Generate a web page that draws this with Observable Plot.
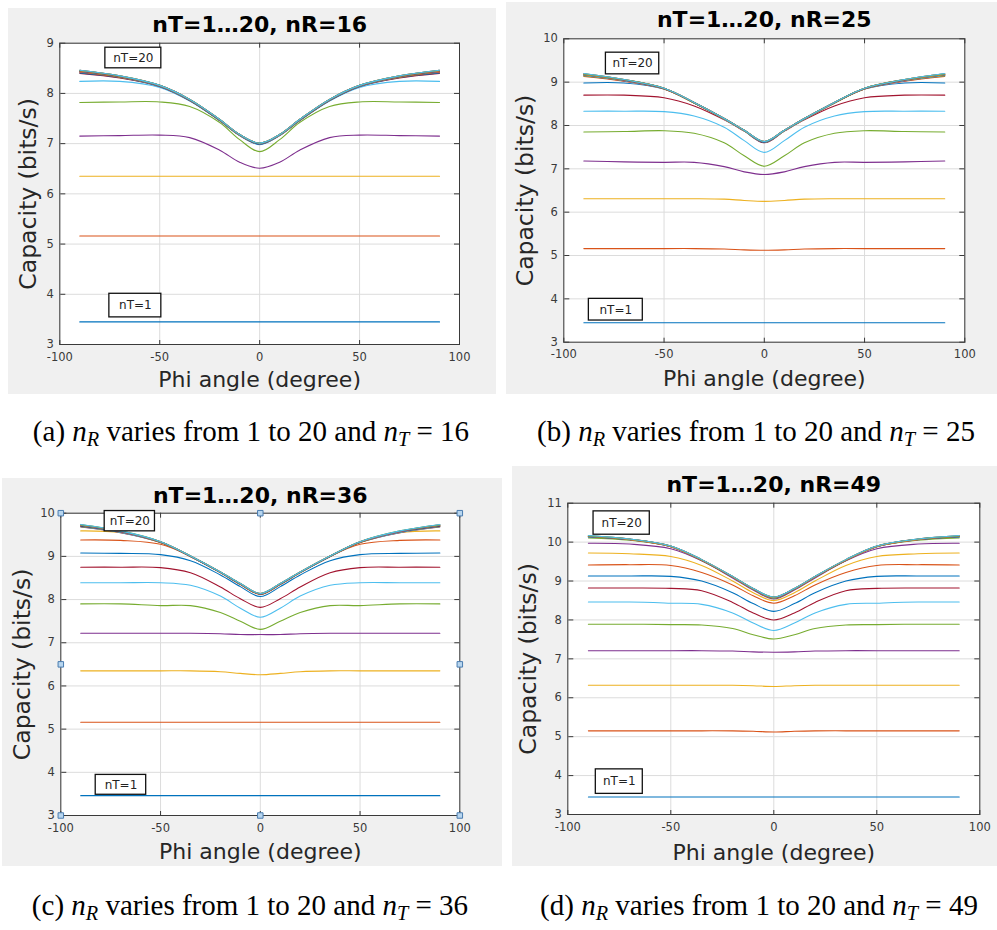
<!DOCTYPE html>
<html><head><meta charset="utf-8">
<script src="https://cdn.jsdelivr.net/npm/d3@7"></script>
<script src="https://cdn.jsdelivr.net/npm/@observablehq/plot@0.6"></script>
<style>
body{margin:0;background:#fff;width:997px;height:930px;position:relative;overflow:hidden;font-family:"DejaVu Sans",sans-serif;}
.panel{position:absolute;}
.cap{position:absolute;width:520px;text-align:center;font-family:"Liberation Serif","Times New Roman",serif;font-size:29px;line-height:1;white-space:nowrap;color:#000;}
.cap i{font-style:italic}
.cap sub{font-size:0.7em;vertical-align:-0.25em;line-height:0}
</style></head><body>
<script>
// Phi angle samples (degree)
const phi = [-90,-70,-50,-35,-20,-10,0,10,20,35,50,70,90];
const xTicks = [-100,-50,0,50,100];
const colors = ["#0072BD","#D95319","#EDB120","#7E2F8E","#77AC30","#4DBEEE","#A2142F"];

// (a) nR = 16, lines nT = 1..20
const capA = [
[3.45,3.45,3.45,3.45,3.45,3.45,3.45,3.45,3.45,3.45,3.45,3.45,3.45],
[5.16,5.16,5.16,5.16,5.16,5.16,5.16,5.16,5.16,5.16,5.16,5.16,5.16],
[6.35,6.35,6.35,6.35,6.35,6.35,6.35,6.35,6.35,6.35,6.35,6.35,6.35],
[7.15,7.16,7.17,7.12,6.87,6.63,6.51,6.63,6.87,7.12,7.17,7.16,7.15],
[7.82,7.83,7.83,7.74,7.42,7.08,6.84,7.08,7.42,7.74,7.83,7.83,7.82],
[8.24,8.24,8.12,7.85,7.46,7.16,6.98,7.16,7.46,7.85,8.12,8.24,8.24],
[8.40,8.31,8.14,7.86,7.46,7.16,6.99,7.16,7.46,7.86,8.14,8.31,8.40],
[8.41,8.32,8.14,7.86,7.46,7.17,6.99,7.17,7.46,7.86,8.14,8.32,8.41],
[8.42,8.32,8.15,7.87,7.47,7.17,7.00,7.17,7.47,7.87,8.15,8.32,8.42],
[8.43,8.33,8.15,7.87,7.47,7.17,7.00,7.17,7.47,7.87,8.15,8.33,8.43],
[8.43,8.33,8.15,7.87,7.47,7.17,7.00,7.17,7.47,7.87,8.15,8.33,8.43],
[8.44,8.33,8.15,7.87,7.47,7.17,7.00,7.17,7.47,7.87,8.15,8.33,8.44],
[8.44,8.34,8.15,7.87,7.47,7.17,7.00,7.17,7.47,7.87,8.15,8.34,8.44],
[8.44,8.34,8.15,7.87,7.47,7.18,7.00,7.18,7.47,7.87,8.15,8.34,8.44],
[8.45,8.34,8.16,7.88,7.48,7.18,7.00,7.18,7.48,7.88,8.16,8.34,8.45],
[8.45,8.34,8.16,7.88,7.48,7.18,7.01,7.18,7.48,7.88,8.16,8.34,8.45],
[8.45,8.35,8.16,7.88,7.48,7.18,7.01,7.18,7.48,7.88,8.16,8.35,8.45],
[8.46,8.35,8.16,7.88,7.48,7.18,7.01,7.18,7.48,7.88,8.16,8.35,8.46],
[8.46,8.35,8.16,7.88,7.48,7.18,7.01,7.18,7.48,7.88,8.16,8.35,8.46],
[8.46,8.35,8.16,7.88,7.48,7.18,7.01,7.18,7.48,7.88,8.16,8.35,8.46]
];

// (b) nR = 25
const capB = [
[3.45,3.45,3.45,3.45,3.45,3.45,3.45,3.45,3.45,3.45,3.45,3.45,3.45],
[5.16,5.16,5.16,5.16,5.15,5.13,5.12,5.13,5.15,5.16,5.16,5.16,5.16],
[6.31,6.31,6.31,6.31,6.30,6.27,6.25,6.27,6.30,6.31,6.31,6.31,6.31],
[7.18,7.16,7.15,7.15,7.05,6.93,6.87,6.93,7.05,7.15,7.15,7.16,7.18],
[7.85,7.86,7.88,7.82,7.60,7.30,7.06,7.30,7.60,7.82,7.88,7.86,7.85],
[8.33,8.33,8.32,8.22,7.96,7.65,7.38,7.65,7.96,8.22,8.32,8.33,8.33],
[8.70,8.70,8.64,8.45,8.13,7.87,7.60,7.87,8.13,8.45,8.64,8.70,8.70],
[8.98,8.98,8.84,8.52,8.15,7.88,7.61,7.88,8.15,8.52,8.84,8.98,8.98],
[9.13,9.02,8.84,8.52,8.15,7.88,7.62,7.88,8.15,8.52,8.84,9.02,9.13],
[9.14,9.03,8.84,8.52,8.15,7.88,7.62,7.88,8.15,8.52,8.84,9.03,9.14],
[9.15,9.03,8.85,8.52,8.15,7.88,7.62,7.88,8.15,8.52,8.85,9.03,9.15],
[9.15,9.04,8.85,8.52,8.15,7.88,7.62,7.88,8.15,8.52,8.85,9.04,9.15],
[9.16,9.04,8.85,8.53,8.15,7.88,7.62,7.88,8.15,8.53,8.85,9.04,9.16],
[9.17,9.05,8.85,8.53,8.16,7.89,7.62,7.89,8.16,8.53,8.85,9.05,9.17],
[9.17,9.05,8.86,8.53,8.16,7.89,7.62,7.89,8.16,8.53,8.86,9.05,9.17],
[9.18,9.05,8.86,8.53,8.16,7.89,7.63,7.89,8.16,8.53,8.86,9.05,9.18],
[9.18,9.06,8.86,8.53,8.16,7.89,7.63,7.89,8.16,8.53,8.86,9.06,9.18],
[9.19,9.06,8.86,8.53,8.16,7.89,7.63,7.89,8.16,8.53,8.86,9.06,9.19],
[9.19,9.06,8.86,8.53,8.16,7.89,7.63,7.89,8.16,8.53,8.86,9.06,9.19],
[9.20,9.06,8.86,8.53,8.16,7.89,7.63,7.89,8.16,8.53,8.86,9.06,9.20]
];

// (c) nR = 36
const capC = [
[3.46,3.46,3.46,3.46,3.46,3.46,3.46,3.46,3.46,3.46,3.46,3.46,3.46],
[5.16,5.16,5.16,5.16,5.16,5.16,5.16,5.16,5.16,5.16,5.16,5.16,5.16],
[6.35,6.35,6.35,6.35,6.33,6.29,6.26,6.29,6.33,6.35,6.35,6.35,6.35],
[7.22,7.22,7.22,7.22,7.21,7.19,7.19,7.19,7.21,7.22,7.22,7.22,7.22],
[7.90,7.90,7.86,7.86,7.70,7.50,7.31,7.50,7.70,7.86,7.86,7.90,7.90],
[8.39,8.39,8.39,8.33,8.08,7.80,7.59,7.80,8.08,8.33,8.39,8.39,8.39],
[8.75,8.75,8.74,8.62,8.29,8.02,7.82,8.02,8.29,8.62,8.74,8.75,8.75],
[9.08,9.07,9.04,8.90,8.57,8.30,8.07,8.30,8.57,8.90,9.04,9.07,9.08],
[9.38,9.37,9.28,9.00,8.62,8.35,8.12,8.35,8.62,9.00,9.28,9.37,9.38],
[9.59,9.55,9.32,9.00,8.63,8.36,8.13,8.36,8.63,9.00,9.32,9.55,9.59],
[9.68,9.55,9.32,9.00,8.63,8.36,8.13,8.36,8.63,9.00,9.32,9.55,9.68],
[9.69,9.56,9.32,9.00,8.63,8.36,8.13,8.36,8.63,9.00,9.32,9.56,9.69],
[9.70,9.56,9.33,9.00,8.63,8.36,8.13,8.36,8.63,9.00,9.33,9.56,9.70],
[9.70,9.57,9.33,9.00,8.63,8.36,8.13,8.36,8.63,9.00,9.33,9.57,9.70],
[9.71,9.57,9.33,9.01,8.63,8.36,8.13,8.36,8.63,9.01,9.33,9.57,9.71],
[9.72,9.58,9.33,9.01,8.64,8.36,8.13,8.36,8.64,9.01,9.33,9.58,9.72],
[9.72,9.58,9.34,9.01,8.64,8.37,8.14,8.37,8.64,9.01,9.34,9.58,9.72],
[9.73,9.58,9.34,9.01,8.64,8.37,8.14,8.37,8.64,9.01,9.34,9.58,9.73],
[9.73,9.59,9.34,9.01,8.64,8.37,8.14,8.37,8.64,9.01,9.34,9.59,9.73],
[9.74,9.59,9.34,9.01,8.64,8.37,8.14,8.37,8.64,9.01,9.34,9.59,9.74]
];

// (d) nR = 49
const capD = [
[3.45,3.45,3.45,3.45,3.45,3.45,3.45,3.45,3.45,3.45,3.45,3.45,3.45],
[5.15,5.15,5.15,5.15,5.15,5.14,5.12,5.14,5.15,5.15,5.15,5.15,5.15],
[6.32,6.32,6.32,6.32,6.32,6.31,6.29,6.31,6.32,6.32,6.32,6.32,6.32],
[7.21,7.21,7.21,7.21,7.20,7.18,7.17,7.18,7.20,7.21,7.21,7.21,7.21],
[7.89,7.89,7.88,7.87,7.78,7.62,7.51,7.62,7.78,7.87,7.88,7.89,7.89],
[8.46,8.46,8.43,8.40,8.18,7.92,7.73,7.92,8.18,8.40,8.43,8.46,8.46],
[8.82,8.82,8.81,8.75,8.45,8.18,8.00,8.18,8.45,8.75,8.81,8.82,8.82],
[9.13,9.13,9.12,9.00,8.70,8.42,8.22,8.42,8.70,9.00,9.12,9.13,9.13],
[9.41,9.42,9.40,9.22,8.90,8.62,8.43,8.62,8.90,9.22,9.40,9.42,9.41],
[9.72,9.70,9.63,9.40,9.00,8.70,8.50,8.70,9.00,9.40,9.63,9.70,9.72],
[9.97,9.95,9.83,9.52,9.08,8.77,8.54,8.77,9.08,9.52,9.83,9.95,9.97],
[10.11,10.05,9.88,9.53,9.10,8.79,8.56,8.79,9.10,9.53,9.88,10.05,10.11],
[10.13,10.06,9.88,9.53,9.10,8.79,8.57,8.79,9.10,9.53,9.88,10.06,10.13],
[10.14,10.06,9.88,9.53,9.10,8.79,8.57,8.79,9.10,9.53,9.88,10.06,10.14],
[10.14,10.07,9.89,9.54,9.11,8.80,8.58,8.80,9.11,9.54,9.89,10.07,10.14],
[10.15,10.07,9.89,9.54,9.11,8.80,8.58,8.80,9.11,9.54,9.89,10.07,10.15],
[10.15,10.07,9.89,9.54,9.11,8.80,8.58,8.80,9.11,9.54,9.89,10.07,10.15],
[10.16,10.08,9.90,9.55,9.12,8.81,8.59,8.81,9.12,9.55,9.90,10.08,10.16],
[10.16,10.08,9.90,9.55,9.12,8.81,8.59,8.81,9.12,9.55,9.90,10.08,10.16],
[10.17,10.08,9.90,9.55,9.12,8.81,8.59,8.81,9.12,9.55,9.90,10.08,10.17]
];

const titles = ["nT=1…20, nR=16","nT=1…20, nR=25","nT=1…20, nR=36","nT=1…20, nR=49"];
const yDomains = [[3,9],[3,10],[3,10],[3,11]];
const yTickSets = [[3,4,5,6,7,8,9],[3,4,5,6,7,8,9,10],[3,4,5,6,7,8,9,10],[3,4,5,6,7,8,9,10,11]];
// annotation text boxes (data units)
const boxesA = [{t:"nT=20",x1:-77.2,x2:-49.2,y1:8.50,y2:8.91},{t:"nT=1",x1:-75.2,x2:-49.2,y1:3.54,y2:4.01}];
const boxesB = [{t:"nT=20",x1:-79.0,x2:-52.4,y1:9.18,y2:9.68},{t:"nT=1",x1:-87.5,x2:-60.6,y1:3.50,y2:4.00}];
const boxesC = [{t:"nT=20",x1:-78.0,x2:-52.8,y1:9.58,y2:10.05},{t:"nT=1",x1:-82.5,x2:-57.2,y1:3.48,y2:3.94}];
const boxesD = [{t:"nT=20",x1:-87.5,x2:-60.2,y1:10.19,y2:10.79},{t:"nT=1",x1:-86.4,x2:-63.6,y1:3.53,y2:4.16}];
// selection handles shown on panel (c)
const handlesC = [{x:-100,y:3},{x:0,y:3},{x:100,y:3},{x:-100,y:10},{x:0,y:10},{x:100,y:10},{x:-100,y:6.5},{x:100,y:6.5}];

const captions = [
  {id:"a", nT:"16"},{id:"b", nT:"25"},{id:"c", nT:"36"},{id:"d", nT:"49"}
];

function rowsOf(caps){
  const out = [];
  caps.forEach((arr,i)=>arr.forEach((v,j)=>out.push({nT:i+1, phi:phi[j], c:v})));
  return out;
}

const layouts = [
  {left:8,  top:8,   width:488, height:386, ml:51.3, mr:37,   mt:34.7, mb:50,   tdy:-18,   xdy:35.7, ydx:-31},
  {left:506,top:2,   width:491, height:392, ml:57.3, mr:32.7, mt:36.3, mb:52.3, tdy:-18.6, xdy:36.3, ydx:-38},
  {left:2,  top:478, width:500, height:388, ml:58.3, mr:42.7, mt:34.7, mb:51,   tdy:-17,   xdy:36.3, ydx:-38.6},
  {left:512,top:466, width:485, height:400, ml:55.3, mr:17.7, mt:36.7, mb:52,   tdy:-18,   xdy:38.3, ydx:-39}
];
const allCaps = [capA,capB,capC,capD];
const allBoxes = [boxesA,boxesB,boxesC,boxesD];

allCaps.forEach((caps, k) => {
  const L = layouts[k];
  const pw = L.width - L.ml - L.mr, ph = L.height - L.mt - L.mb;
  const yT = yTickSets[k];
  const marks = [
    Plot.frame({fill:"white"}),
    Plot.gridX(xTicks, {stroke:"#dcdcdc", strokeOpacity:1}),
    Plot.gridY(yT, {stroke:"#dcdcdc", strokeOpacity:1}),
    Plot.line(rowsOf(caps), {x:"phi", y:"c", z:"nT", stroke:d=>colors[(d.nT-1)%7], strokeWidth:1.1, curve:"catmull-rom"}),
    Plot.frame({stroke:"#3a3a3a", strokeWidth:1}),
    // inward ticks on four sides
    Plot.axisX(xTicks, {anchor:"top", dy:ph, tickSize:5, tickFormat:()=>"", label:null, stroke:"#3a3a3a"}),
    Plot.axisX(xTicks, {anchor:"bottom", dy:-ph, tickSize:5, tickFormat:()=>"", label:null, stroke:"#3a3a3a"}),
    Plot.axisY(yT, {anchor:"right", dx:-pw, tickSize:5, tickFormat:()=>"", label:null, stroke:"#3a3a3a"}),
    Plot.axisY(yT, {anchor:"left", dx:pw, tickSize:5, tickFormat:()=>"", label:null, stroke:"#3a3a3a"}),
    // tick labels
    Plot.axisX(xTicks, {anchor:"bottom", tickSize:0, tickPadding:8, tickFormat:d=>String(d), label:null, fontSize:11.5, fill:"#3a3a3a"}),
    Plot.axisY(yT, {anchor:"left", tickSize:0, tickPadding:6, tickFormat:d=>String(d), label:null, fontSize:11.5, fill:"#3a3a3a"}),
    // annotation boxes
    Plot.rect(allBoxes[k], {x1:"x1", x2:"x2", y1:"y1", y2:"y2", fill:"white", stroke:"#111", strokeWidth:1.3}),
    Plot.text(allBoxes[k], {x:d=>(d.x1+d.x2)/2, y:d=>(d.y1+d.y2)/2, text:"t", fontSize:12, fill:"#222"}),
    // title and axis labels
    Plot.text([titles[k]], {frameAnchor:"top", lineAnchor:"middle", dy:L.tdy, text:d=>d, fontSize:22, fontWeight:"bold", fill:"#000"}),
    Plot.text(["Phi angle (degree)"], {frameAnchor:"bottom", lineAnchor:"middle", dy:L.xdy, text:d=>d, fontSize:22, fill:"#262626"}),
    Plot.text(["Capacity (bits/s)"], {frameAnchor:"middle", dx:L.ydx - pw/2, rotate:-90, text:d=>d, fontSize:23.5, fill:"#262626"})
  ];
  if (k === 2) {
    marks.push(Plot.dot(handlesC, {x:"x", y:"y", symbol:"square", r:3.1, fill:"#b8d6ef", stroke:"#4a7cb0", strokeWidth:1}));
  }
  const svg = Plot.plot({
    width: L.width, height: L.height,
    marginLeft: L.ml, marginRight: L.mr, marginTop: L.mt, marginBottom: L.mb,
    x: {domain:[-100,100]},
    y: {domain: yDomains[k]},
    style: {background:"#f0f0f0", fontFamily:"'DejaVu Sans', sans-serif", color:"#3a3a3a", overflow:"visible"},
    marks
  });
  svg.classList.add("panel");
  svg.style.position = "absolute";
  svg.style.left = L.left + "px";
  svg.style.top = L.top + "px";
  document.body.appendChild(svg);
});

const capPos = [{cx:251, top:417},{cx:756, top:417},{cx:250, top:891},{cx:759, top:891}];
captions.forEach((c, i) => {
  const div = document.createElement("div");
  div.className = "cap";
  div.style.left = (capPos[i].cx - 260) + "px";
  div.style.top = capPos[i].top + "px";
  div.innerHTML = `(${c.id}) <i>n</i><sub><i>R</i></sub> varies from 1 to 20 and <i>n</i><sub><i>T</i></sub> = ${c.nT}`;
  document.body.appendChild(div);
});
</script>
</body></html>
